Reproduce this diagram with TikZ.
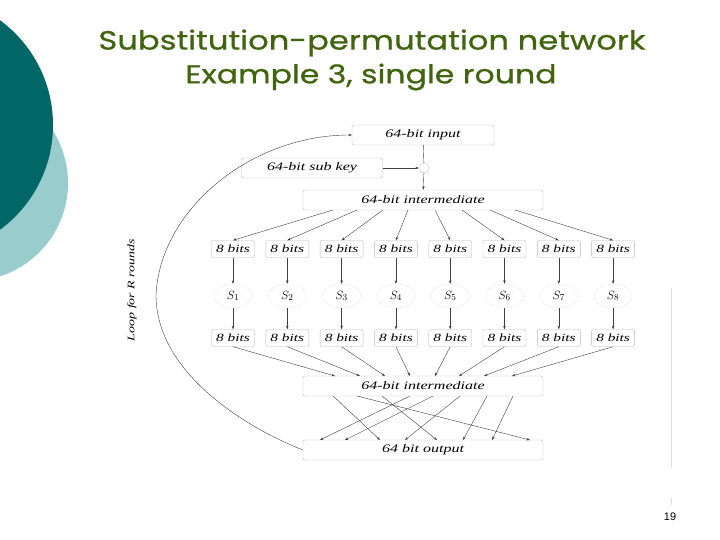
\documentclass[tikz,border=0pt]{standalone}
\usepackage{fontspec}
\setmainfont{Liberation Serif}
\newfontfamily\titlefont[FakeStretch=1.22,FakeBold=0.7]{Poppins}
\newfontfamily\diagfont[FakeStretch=1.4]{Liberation Serif}
\newfontfamily\numfont{Liberation Sans}
\usetikzlibrary{shapes.geometric,arrows.meta}
\definecolor{darkteal}{RGB}{0,102,102}
\definecolor{lightteal}{RGB}{153,204,204}
\definecolor{titlegreen}{RGB}{65,100,15}
\tikzset{widebox/.style={draw=gray!55, rounded corners=2bp, minimum width=#1, minimum height=20bp, inner sep=0pt, font=\diagfont\itshape\fontsize{11.5}{13}\selectfont},
%default width is the one of the intermediate boxes.
widebox/.default={240bp},
bitbox/.style={draw=gray!55, rounded corners=2bp, minimum width=43bp, minimum height=17bp, inner sep=0pt, font=\diagfont\itshape\fontsize{11}{13}\selectfont},
sbox/.style={ellipse, draw=gray!45, densely dotted, minimum width=38bp, minimum height=24bp, inner sep=0pt, font=\fontsize{13}{15}\selectfont},
link/.style={draw=black!75, line width=0.4bp, -{Stealth[length=3.5bp,width=2.5bp]}}}
\begin{document}
\begin{tikzpicture}[x=1bp,y=-1bp]

\useasboundingbox (0,0) rectangle (720,540);
\fill[white] (0,0) rectangle (720,540);
\fill[lightteal] (-30,183) circle (98bp);
\fill[darkteal] (-77,125) circle (130bp);

\node[font=\titlefont\fontsize{26.5}{30}\selectfont, text=titlegreen] (title) at (372,43) {Substitution-permutation network};
\node[font=\titlefont\fontsize{26}{30}\selectfont, text=titlegreen] (subtitle) at (371,77) {Example 3, single round};

\node[widebox=142bp] (in)   at (423,135) {64-bit input};
\node[widebox=141bp] (key)  at (312,168) {64-bit sub key};
\node[circle, draw=gray!45, minimum size=10bp, inner sep=0pt] (xor) at (424,168) {};
\node[widebox]       (mixA) at (423,200) {64-bit intermediate};

\foreach \i in {1,...,8} {
    \pgfmathsetmacro\xx{233+54.3*(\i-1)}
    \node[bitbox] (a\i) at (\xx,249) {8 bits};
    \node[sbox]   (s\i) at (\xx,296) {$S_{\i}$};
    \node[bitbox] (b\i) at (\xx,338) {8 bits};
}

\node[widebox] (mixB) at (423,386) {64-bit intermediate};
\node[widebox] (out)  at (423,450) {64 bit output};

\foreach \i/\px in {1/333,2/357,3/383,4/408,5/435,6/462,7/490,8/515}
    \coordinate (p\i) at (\px,210);
\foreach \i/\px in {1/335,2/360,3/385,4/410,5/435,6/459,7/484,8/512}
    \coordinate (q\i) at (\px,376);
\foreach \i/\px in {1/333,2/357,3/382,4/410,5/433,6/460,7/487,8/513}
    \coordinate (r\i) at (\px,396);
\foreach \i/\px in {1/320,2/345,3/380,4/405,5/437,6/463,7/492,8/530}
    \coordinate (t\i) at (\px,440);

\draw[draw=black!75, line width=0.4bp] (in) -- (xor);
\draw[link] (key) -- (xor);
\draw[link] (xor) -- (mixA);

\foreach \i in {1,...,8} {
    \draw[link] (p\i) -- (a\i.north);
    \draw[link] (a\i) -- (s\i);
    \draw[link] (s\i) -- (b\i);
    \draw[link] (b\i.south) -- (q\i);
}

\foreach \i/\j in {1/3,2/8,3/5,4/1,5/2,6/4,7/6,8/7}
    \draw[link] (r\i) -- (t\j);

\draw[link] (out.west) .. controls (240,425) and (156,370) .. (156,295)
    .. controls (160,210) and (250,135) .. (in.west);
\node[rotate=90, font=\diagfont\itshape\fontsize{10}{12}\selectfont] (looplabel) at (132,290) {Loop for R rounds};

\draw[gray!25, line width=1bp] (671,288) -- (671,468);
\draw[gray!25, line width=1bp] (671,498) -- (671,505);
\node[font=\numfont\fontsize{11}{13}\selectfont] (pagenum) at (670,517) {19};

\end{tikzpicture}
\end{document}
